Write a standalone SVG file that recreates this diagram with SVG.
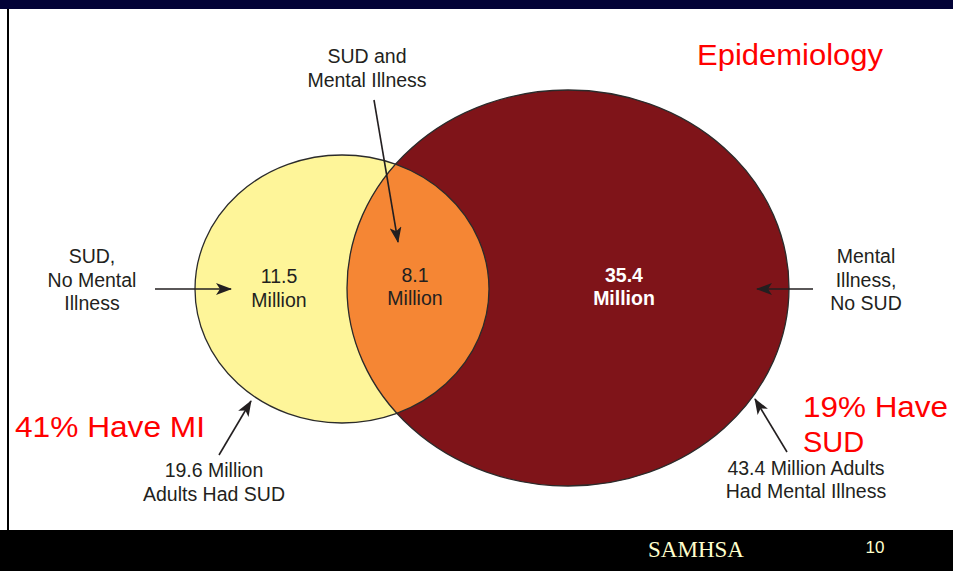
<svg xmlns="http://www.w3.org/2000/svg" width="953" height="571" viewBox="0 0 953 571">
<style>
.lbl{font-family:"Liberation Sans",Arial,sans-serif;font-size:19.5px;fill:#231f20;text-anchor:middle}
.num{font-family:"Liberation Sans",Arial,sans-serif;font-size:19.5px;fill:#231f20;text-anchor:middle}
.wnum{font-family:"Liberation Sans",Arial,sans-serif;font-size:19.5px;fill:#ffffff;font-weight:bold;text-anchor:middle}
.red{font-family:"Liberation Sans",Arial,sans-serif;font-size:29px;fill:#ff0000}
.conn{stroke:#231f20;stroke-width:1.6;fill:none;marker-end:url(#ah)}
.outline{fill:none;stroke:#2b2b2b;stroke-width:1.3}
</style>
<defs>
<marker id="ah" markerUnits="userSpaceOnUse" markerWidth="16" markerHeight="12" refX="15" refY="6" orient="auto">
<path d="M0,0 L16,6 L0,12 L4,6 Z" fill="#231f20"/>
</marker>
<clipPath id="darkClip"><ellipse cx="568" cy="288" rx="221" ry="198"/></clipPath>
</defs>
<rect x="0" y="0" width="953" height="571" fill="#ffffff"/>
<rect x="0" y="0" width="953" height="9" fill="#020236"/>
<rect x="0" y="530" width="953" height="41" fill="#000000"/>
<line x1="8" y1="9" x2="8" y2="530" stroke="#000" stroke-width="2"/>

<g id="node-sud">
<ellipse cx="342" cy="289" rx="147" ry="134" fill="#fef599"/>
</g>
<g id="node-mi">
<ellipse cx="568" cy="288" rx="221" ry="198" fill="#7f1419"/>
</g>
<g id="node-both">
<ellipse cx="342" cy="289" rx="147" ry="134" fill="#f58634" clip-path="url(#darkClip)"/>
</g>
<g id="outlines">
<ellipse class="outline" cx="342" cy="289" rx="147" ry="134"/>
<ellipse class="outline" cx="568" cy="288" rx="221" ry="198"/>
</g>

<g id="node-sud-values">
<text class="num" x="279" y="283">11.5</text>
<text class="num" x="279" y="307">Million</text>
</g>
<g id="node-both-values">
<text class="num" x="415" y="282">8.1</text>
<text class="num" x="415" y="305">Million</text>
</g>
<g id="node-mi-values">
<text class="wnum" x="624" y="282">35.4</text>
<text class="wnum" x="624" y="305">Million</text>
</g>

<g id="label-both">
<text class="lbl" x="367" y="63">SUD and</text>
<text class="lbl" x="367" y="87">Mental Illness</text>
</g>
<g id="label-sud-only">
<text class="lbl" x="92" y="263">SUD,</text>
<text class="lbl" x="92" y="287">No Mental</text>
<text class="lbl" x="92" y="310">Illness</text>
</g>
<g id="label-mi-only">
<text class="lbl" x="866" y="263">Mental</text>
<text class="lbl" x="866" y="287">Illness,</text>
<text class="lbl" x="866" y="310">No SUD</text>
</g>
<g id="label-sud-total">
<text class="lbl" x="214" y="477">19.6 Million</text>
<text class="lbl" x="214" y="501">Adults Had SUD</text>
</g>
<g id="label-mi-total">
<text class="lbl" x="806" y="475">43.4 Million Adults</text>
<text class="lbl" x="806" y="498">Had Mental Illness</text>
</g>

<g id="connectors">
<line class="conn" x1="374" y1="100" x2="398" y2="242"/>
<line class="conn" x1="155" y1="289" x2="231" y2="289"/>
<line class="conn" x1="813" y1="289" x2="757" y2="289"/>
<line class="conn" x1="219" y1="455" x2="251" y2="401"/>
<line class="conn" x1="787" y1="452" x2="755" y2="399"/>
</g>

<g id="annotations">
<text class="red" x="697" y="65" textLength="186" lengthAdjust="spacingAndGlyphs">Epidemiology</text>
<text class="red" x="15" y="437" textLength="190" lengthAdjust="spacingAndGlyphs">41% Have MI</text>
<text class="red" x="803" y="417" textLength="145" lengthAdjust="spacingAndGlyphs">19% Have</text>
<text class="red" x="803" y="452">SUD</text>
</g>

<g id="footer">
<text x="696" y="557" font-family="'Liberation Serif','Times New Roman',serif" font-size="23" fill="#ffffcc" text-anchor="middle">SAMHSA</text>
<text x="875" y="553" font-family="'Liberation Sans',Arial,sans-serif" font-size="17" fill="#ffffcc" text-anchor="middle">10</text>
</g>
</svg>
